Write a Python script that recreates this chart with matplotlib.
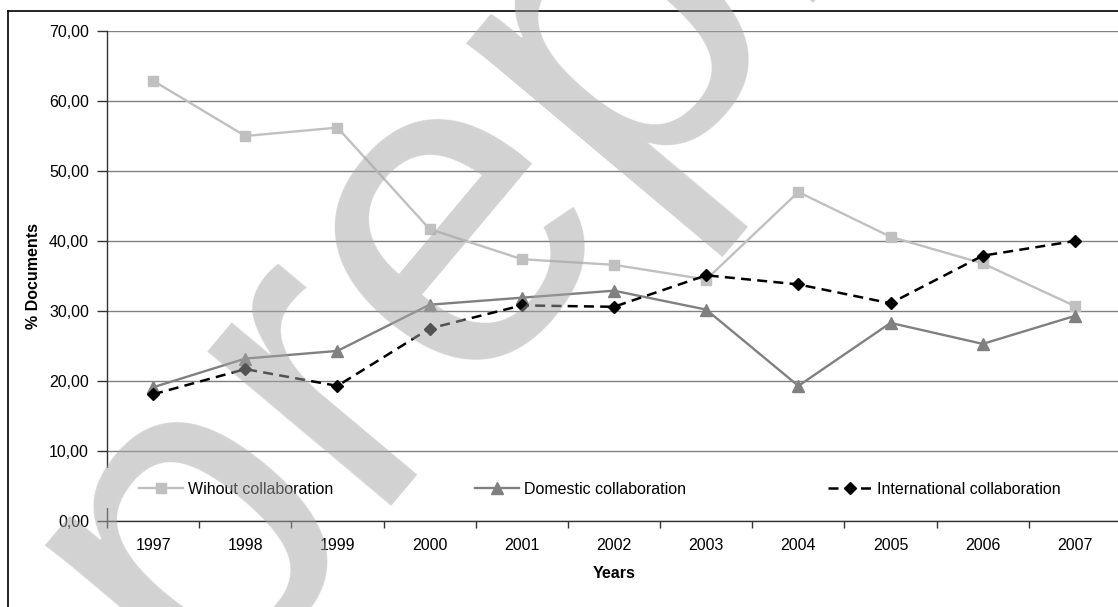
import matplotlib
matplotlib.use("Agg")
import matplotlib.pyplot as plt
from matplotlib.lines import Line2D
from matplotlib.patches import Rectangle

plt.rcParams['font.family'] = ['Liberation Sans', 'DejaVu Sans']

years = ['1997', '1998', '1999', '2000', '2001', '2002', '2003', '2004', '2005', '2006', '2007']
without_collab = [62.9, 55.0, 56.2, 41.7, 37.4, 36.6, 34.5, 47.0, 40.6, 36.8, 30.7]
domestic_collab = [19.1, 23.2, 24.3, 30.9, 31.9, 32.9, 30.2, 19.3, 28.3, 25.3, 29.3]
international_collab = [18.1, 21.7, 19.3, 27.5, 30.8, 30.6, 35.1, 33.8, 31.1, 37.9, 40.0]
series_names = ['Wihout collaboration', 'Domestic collaboration', 'International collaboration']
y_ticks = [0, 10, 20, 30, 40, 50, 60, 70]

W, H = 1118, 607
FS = 11.5
fig = plt.figure(figsize=(W / 100, H / 100), dpi=100)

def fx(px):
    return px / W

def fy(py):
    return 1 - py / H

ax = fig.add_axes([fx(107), fy(521), fx(1121) - fx(107), fy(31) - fy(521)])
x = list(range(len(years)))

l1, = ax.plot(x, without_collab, color='#c0c0c0', lw=1.7, marker='s', ms=7,
              mfc='#c0c0c0', mec='#c0c0c0', zorder=3)
l2, = ax.plot(x, domestic_collab, color='#808080', lw=1.7, marker='^', ms=8,
              mfc='#808080', mec='#808080', zorder=3)
l3, = ax.plot(x, international_collab, color='black', lw=1.8, ls=(0, (4, 2.5)),
              marker='D', ms=6, mfc='black', mec='black', zorder=4)

ax.set_xlim(-0.5, len(years) - 0.5)
ax.set_ylim(0, 70)
ax.set_yticks(y_ticks)
ax.set_yticklabels([f"{v:.2f}".replace('.', ',') for v in y_ticks], fontsize=FS)
ax.yaxis.grid(True, color='#808080', lw=1)
ax.set_axisbelow(True)

ax.set_xticks([i - 0.5 for i in range(len(years) + 1)])
ax.set_xticklabels([])
ax.set_xticks(x, minor=True)
ax.set_xticklabels(years, minor=True, fontsize=FS)
ax.tick_params(axis='x', which='minor', length=0, pad=12)
ax.tick_params(axis='x', which='major', length=5, width=1, color='#333333', direction='out')
ax.tick_params(axis='y', length=7, width=1, color='#333333', direction='out', pad=6)

for s in ['top', 'right']:
    ax.spines[s].set_visible(False)
for s in ['left', 'bottom']:
    ax.spines[s].set_color('#333333')
    ax.spines[s].set_linewidth(1)

fig.text(fx(34), fy(276), '% Documents', rotation=90, ha='center', va='center',
         fontsize=FS, fontweight='bold')
fig.text(fx(614), fy(574), 'Years', ha='center', va='center', fontsize=FS, fontweight='bold')

# legend background covering the axis
ax.add_patch(Rectangle((fx(102), fy(508)), fx(1110) - fx(102), fy(468) - fy(508),
                       transform=fig.transFigure, facecolor='white', edgecolor='none',
                       zorder=4.5, clip_on=False))
leg = fig.legend([l1, l2, l3], series_names, loc='center left',
                 bbox_to_anchor=(fx(131), fy(489)), ncol=3, frameon=False,
                 fontsize=FS, borderpad=0, handlelength=2.75, handletextpad=0.3,
                 columnspacing=8.9)
leg.set_zorder(6)

# outer frame
fig.add_artist(Line2D([fx(8), fx(8)], [fy(11), 0], color='black', lw=1.2))
fig.add_artist(Line2D([fx(8), 1], [fy(11), fy(11)], color='black', lw=1.2))

# watermark
fig.text(fx(200), fy(700), 'preprint', rotation=50, rotation_mode='anchor',
         ha='left', va='baseline', fontsize=327, color='#a6a6a6', alpha=0.5,
         family='Liberation Sans', zorder=20)

fig.savefig('out.png', dpi=100)
